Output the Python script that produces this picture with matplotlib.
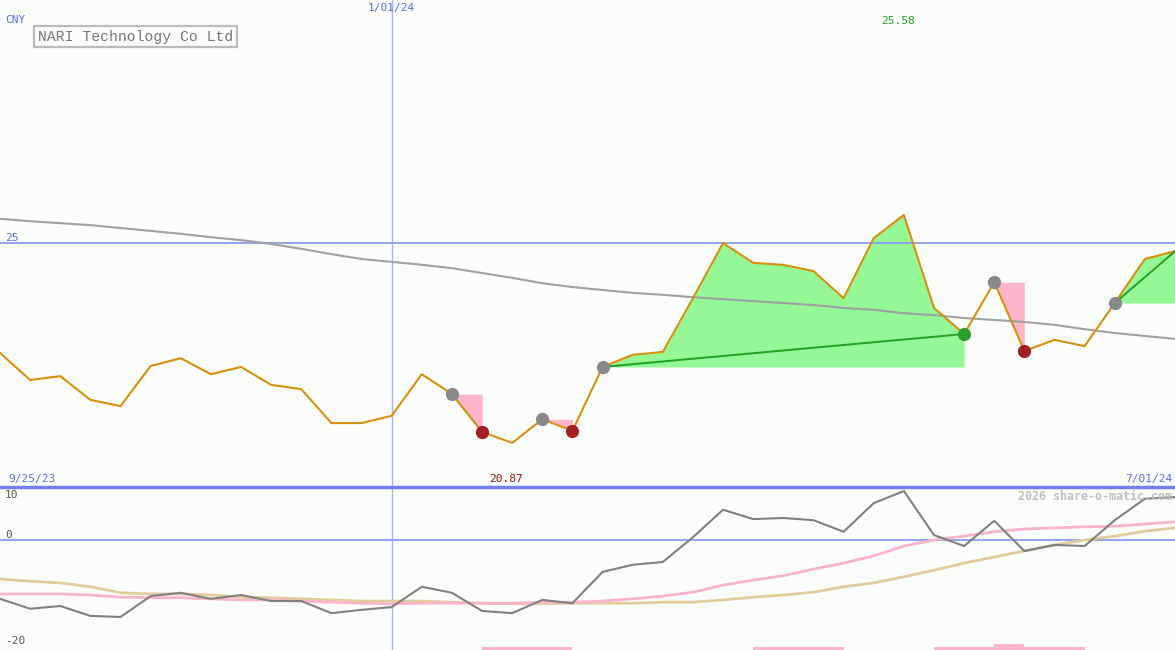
import numpy as np
import matplotlib.pyplot as plt
from matplotlib.lines import Line2D
import matplotlib.transforms as mtransforms

plt.rcParams['font.family'] = ['DejaVu Sans Mono']

# weekly closes (CNY)
price = [22.73, 22.17, 22.25, 21.76, 21.63, 22.46, 22.62, 22.29, 22.44, 22.07,
         21.98, 21.28, 21.28, 21.43, 22.29, 21.88, 21.10, 20.87, 21.36, 21.12,
         22.44, 22.69, 22.75, 23.86, 25.00, 24.59, 24.55, 24.42, 23.86, 25.10,
         25.58, 23.66, 23.12, 24.19, 22.77, 23.00, 22.87, 23.76, 24.67, 24.83]
# long moving average
ma_long = [25.50, 25.45, 25.41, 25.37, 25.31, 25.25, 25.19, 25.12, 25.06, 24.98,
           24.88, 24.77, 24.67, 24.61, 24.55, 24.48, 24.38, 24.28, 24.17, 24.09,
           24.03, 23.97, 23.93, 23.88, 23.84, 23.80, 23.76, 23.72, 23.66, 23.62,
           23.55, 23.51, 23.45, 23.41, 23.37, 23.31, 23.22, 23.14, 23.08, 23.02]
# oscillator panel
osc = [-10.7, -12.5, -12.0, -13.8, -14.0, -10.2, -9.6, -10.7, -10.0, -11.1,
       -11.1, -13.3, -12.7, -12.2, -8.5, -9.6, -12.9, -13.3, -10.9, -11.5,
       -5.8, -4.5, -4.0, 0.5, 5.5, 3.8, 4.0, 3.6, 1.5, 6.7,
       8.9, 0.9, -1.1, 3.5, -2.0, -0.9, -1.1, 3.6, 7.5, 7.8]
osc_fast = [-9.8, -9.8, -9.8, -10.0, -10.4, -10.5, -10.5, -10.7, -10.9, -10.9,
            -11.1, -11.3, -11.5, -11.6, -11.5, -11.5, -11.5, -11.5, -11.3, -11.3,
            -11.1, -10.7, -10.2, -9.5, -8.2, -7.3, -6.5, -5.3, -4.2, -2.9,
            -1.1, 0.0, 0.7, 1.5, 2.0, 2.2, 2.4, 2.5, 2.9, 3.3]
osc_slow = [-7.1, -7.5, -7.8, -8.5, -9.6, -9.8, -9.8, -10.0, -10.4, -10.5,
            -10.7, -10.9, -11.1, -11.1, -11.1, -11.3, -11.5, -11.6, -11.6, -11.5,
            -11.5, -11.5, -11.3, -11.3, -10.9, -10.4, -10.0, -9.5, -8.5, -7.8,
            -6.7, -5.5, -4.2, -3.1, -2.0, -0.9, 0.0, 0.7, 1.6, 2.2]
sig_bars = [0, 0, 0, 0, 0, 0, 0, 0, 0, 0,
            0, 0, 0, 0, 0, 0, 0.55, 0.55, 0.55, 0,
            0, 0, 0, 0, 0, 0.55, 0.55, 0.55, 0, 0,
            0, 0.55, 0.55, 1.1, 0.55, 0.55, 0, 0, 0, 0]

loss_runs = [(15, 16), (18, 19), (33, 34)]
gain_runs = [(20, 32), (37, 39)]
gray_pts = [15, 18, 20, 33, 37]
red_pts = [16, 19, 34]
green_pts = [32]

first_date = '9/25/23'
last_date = '7/01/24'
mid_date = '1/01/24'
mid_idx = 13

bg = '#fbfdfb'
blue = '#5a6cf0'
x = np.arange(len(price))
p = np.array(price)

fig = plt.figure(figsize=(11.75, 6.5), dpi=100, facecolor=bg)
ax = fig.add_axes([0, 163 / 650, 1, 487 / 650])
ax2 = fig.add_axes([0, 0, 1, 161 / 650])
for a in (ax, ax2):
    a.set_facecolor(bg)
    a.set_xlim(0, len(price) - 1)
    a.set_xticks([])
    a.set_yticks([])
    for s in a.spines.values():
        s.set_visible(False)
    a.axvline(mid_idx, color='#a4b2fa', lw=1)

ax.set_ylim(19.96, 30.02)
ax.axhline(25, color='#8c9cf2', lw=1.3)

for a0, b0 in loss_runs:
    ax.fill_between(x[a0:b0 + 1], p[a0:b0 + 1], p[a0], color='#fbb6cc', lw=0)
for a0, b0 in gain_runs:
    ax.fill_between(x[a0:b0 + 1], p[a0:b0 + 1], p[a0], color='#96f796', lw=0)

ax.plot(x, ma_long, color='#a0a0a0', lw=1.5)
ax.plot(x, price, color='#d8900c', lw=1.5)
for a0, b0 in gain_runs:
    ax.plot([a0, b0], [p[a0], p[b0]], color='#22a022', lw=1.4)

ax.plot(x[gray_pts], p[gray_pts], 'o', color='#888888', ms=8.5, zorder=5)
ax.plot(x[red_pts], p[red_pts], 'o', color='#a52020', ms=8.5, zorder=5)
ax.plot(x[green_pts], p[green_pts], 'o', color='#2aa02a', ms=8.5, zorder=5)

# max / min labels
imax = int(np.argmax(p))
imin = int(np.argmin(p))
tr = mtransforms.blended_transform_factory(ax.transData, fig.transFigure)
ax.text(imax - 0.2, 1 - 21 / 650, f'{p[imax]:.2f}', transform=tr, color='#22a022',
        fontsize=8, ha='center', va='center')
ax.text(imin - 0.2, 1 - 479 / 650, f'{p[imin]:.2f}', transform=tr, color='#a01010',
        fontsize=8, ha='center', va='center')
ax.text(mid_idx, 1 - 8 / 650, mid_date, transform=tr, color=blue,
        fontsize=8, ha='center', va='center')

# lower panel
ax2.set_ylim(-20, 9.27)
ax2.axhline(0, color='#8c9cf2', lw=1.3)
ax2.bar(x, sig_bars, bottom=-20, width=1, align='edge', color='#fbb6cc', lw=0)
ax2.plot(x, osc_slow, color='#e2cc9c', lw=2)
ax2.plot(x, osc_fast, color='#f9b4cc', lw=2)
ax2.plot(x, osc, color='#808080', lw=1.5)

fig.add_artist(Line2D([0, 1], [1 - 487 / 650] * 2, transform=fig.transFigure,
                      color='#7080ee', lw=2.5))


def ftext(px, py, s, **kw):
    fig.text(px / 1175, 1 - py / 650, s, va='center', **kw)


ftext(5, 20, 'CNY', color=blue, fontsize=8)
ftext(5, 238, '25', color=blue, fontsize=8)
ftext(8, 479, first_date, color=blue, fontsize=8)
ftext(1172, 479, last_date, color=blue, fontsize=8, ha='right')
ftext(5, 495, '10', color='#555555', fontsize=8)
ftext(5, 535, '0', color='#555555', fontsize=8)
ftext(5, 641, '-20', color='#555555', fontsize=8)
ftext(1172, 496, '2026 share-o-matic.com', color='#c0c0c0', fontsize=8.4,
      ha='right', fontweight='bold')
ftext(38, 36.5, 'NARI Technology Co Ltd', color='#777777', fontsize=10.6,
      family='Liberation Mono',
      bbox=dict(boxstyle='square,pad=0.25', fc=bg, ec='#bbbbbb', lw=1.6))

fig.savefig('out.png', dpi=100, facecolor=bg)
